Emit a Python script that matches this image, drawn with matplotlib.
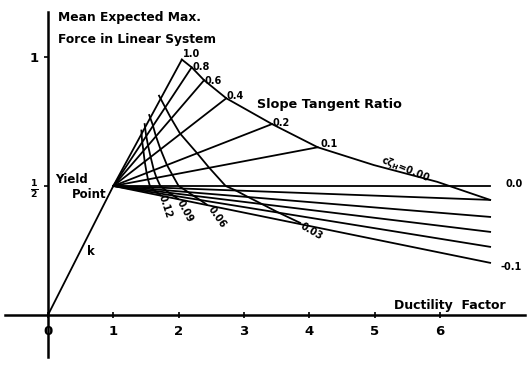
#!/usr/bin/env python
'''
Mean expected max. force vs ductility factor for bilinear systems
(slope tangent ratio rays and damping curves)
'''
##### Import python modules
import numpy as np
import matplotlib
matplotlib.use('agg')
import matplotlib.pyplot as plt

##### Settings
plt.rcParams['font.family'] = 'DejaVu Sans'
plt.rcParams['font.weight'] = 'bold'
plt.rcParams['mathtext.default'] = 'bf'
lw = 1.3

##### Data
#elastic branch and yield point
elastic_x = [0.0, 1.0]
elastic_y = [0.0, 0.5]
yield_x = 1.0
yield_y = 0.5
#rays with positive slope tangent ratio, ending on the zeta=0.00 envelope
pos_ratio_labels = ['1.0', '0.8', '0.6', '0.4', '0.2', '0.1']
pos_end_x = [2.05, 2.20, 2.39, 2.73, 3.43, 4.13]
pos_end_y = [0.99, 0.96, 0.91, 0.84, 0.74, 0.65]
#rays with zero and negative ratio (0.0 ... -0.1) running to the right edge
neg_ratio_labels = ['0.0', '', '', '', '', '-0.1']
neg_end_x = [6.77, 6.77, 6.77, 6.77, 6.77, 6.77]
neg_end_y = [0.500, 0.446, 0.380, 0.322, 0.264, 0.202]
#zeta = 0.00 envelope
env_x = [2.05, 2.20, 2.39, 2.73, 3.43, 4.13, 4.99, 5.96, 6.77]
env_y = [0.99, 0.96, 0.91, 0.84, 0.74, 0.65, 0.581, 0.516, 0.446]
#damping curves, from ratio 1.0 down to ratio -0.1
damp_labels = ['0.03', '0.06', '0.09', '0.12']
z03_x = [1.70, 1.78, 1.88, 2.02, 2.28, 2.46, 2.72, 2.88, 3.05, 3.26, 3.52, 3.86]
z03_y = [0.850, 0.812, 0.764, 0.704, 0.628, 0.573, 0.500, 0.482, 0.459, 0.432, 0.398, 0.357]
z06_x = [1.55, 1.60, 1.65, 1.72, 1.82, 1.90, 2.00, 2.07, 2.14, 2.22, 2.32, 2.43]
z06_y = [0.775, 0.740, 0.695, 0.644, 0.582, 0.545, 0.500, 0.489, 0.477, 0.463, 0.447, 0.428]
z09_x = [1.48, 1.50, 1.53, 1.57, 1.62, 1.66, 1.72, 1.76, 1.80, 1.85, 1.91, 1.99]
z09_y = [0.740, 0.700, 0.659, 0.614, 0.562, 0.533, 0.500, 0.492, 0.484, 0.474, 0.464, 0.450]
z12_x = [1.43, 1.44, 1.46, 1.48, 1.51, 1.53, 1.56, 1.59, 1.61, 1.64, 1.68, 1.72]
z12_y = [0.715, 0.676, 0.638, 0.596, 0.551, 0.527, 0.500, 0.494, 0.488, 0.481, 0.473, 0.464]
damp_x = [z03_x, z06_x, z09_x, z12_x]
damp_y = [z03_y, z06_y, z09_y, z12_y]

##### Plot
fig = plt.figure(figsize=(5.28, 3.66), dpi=100)
ax = fig.add_axes([0, 0, 1, 1])
ax.set_xlim(-0.735, 7.35)
ax.set_ylim(-0.198, 1.221)

#axes through the origin
for side in ['top', 'right']:
    ax.spines[side].set_visible(False)
ax.spines['left'].set_position(('data', 0))
ax.spines['bottom'].set_position(('data', 0))
ax.spines['left'].set_bounds(-0.163, 1.174)
ax.spines['bottom'].set_bounds(-0.66, 7.30)
ax.spines['left'].set_linewidth(1.8)
ax.spines['bottom'].set_linewidth(1.8)
ax.set_xticks([0, 1, 2, 3, 4, 5, 6])
ax.set_xticklabels(['0', '1', '2', '3', '4', '5', '6'], fontsize=9.5, fontweight='bold')
ax.set_yticks([0.5, 1.0])
ax.set_yticklabels([r'$\frac{1}{2}$', '1'], fontsize=9.5, fontweight='bold')
ax.tick_params(axis='x', direction='inout', length=4, width=1.2, pad=5)
ax.tick_params(axis='y', direction='out', length=3, width=1.2, pad=4)

#elastic branch
ax.plot(elastic_x, elastic_y, color='black', lw=lw)
#rays
for ex, ey in zip(pos_end_x, pos_end_y):
    ax.plot([yield_x, ex], [yield_y, ey], color='black', lw=lw)
for ex, ey in zip(neg_end_x, neg_end_y):
    ax.plot([yield_x, ex], [yield_y, ey], color='black', lw=lw)
#envelope and damping curves
ax.plot(env_x, env_y, color='black', lw=lw)
for dx, dy in zip(damp_x, damp_y):
    ax.plot(dx, dy, color='black', lw=lw)

#labels
ax.text(0.153, 1.155, 'Mean Expected Max.', fontsize=8.8, ha='left', va='center')
ax.text(0.153, 1.066, 'Force in Linear System', fontsize=8.8, ha='left', va='center')
ax.text(3.20, 0.814, 'Slope Tangent Ratio', fontsize=9.2, ha='left', va='center')
ax.text(0.107, 0.527, 'Yield', fontsize=8.5, ha='left', va='center')
ax.text(0.37, 0.465, 'Point', fontsize=8.5, ha='left', va='center')
ax.text(0.66, 0.244, 'k', fontsize=8.5, ha='center', va='center')
ax.text(5.30, 0.035, 'Ductility  Factor', fontsize=9, ha='left', va='center')
pos_lab_x = [2.07, 2.22, 2.40, 2.74, 3.43, 4.17]
pos_lab_y = [1.012, 0.963, 0.907, 0.847, 0.744, 0.663]
for lab, lx, ly in zip(pos_ratio_labels, pos_lab_x, pos_lab_y):
    ax.text(lx, ly, lab, fontsize=7, ha='left', va='center')
ax.text(7.14, 0.508, neg_ratio_labels[0], fontsize=7, ha='center', va='center')
ax.text(7.09, 0.186, neg_ratio_labels[-1], fontsize=7, ha='center', va='center')
ax.text(5.47, 0.566, r'c$\zeta_H$=0.00', fontsize=7, ha='center', va='center', rotation=-22)
damp_lab_x = [4.04, 2.59, 2.10, 1.79]
damp_lab_y = [0.322, 0.380, 0.403, 0.422]
damp_rot = [-30, -55, -62, -72]
for lab, lx, ly, rot in zip(damp_labels, damp_lab_x, damp_lab_y, damp_rot):
    ax.text(lx, ly, lab, fontsize=7, ha='center', va='center', rotation=rot)

plt.savefig('out.png', dpi=100)
